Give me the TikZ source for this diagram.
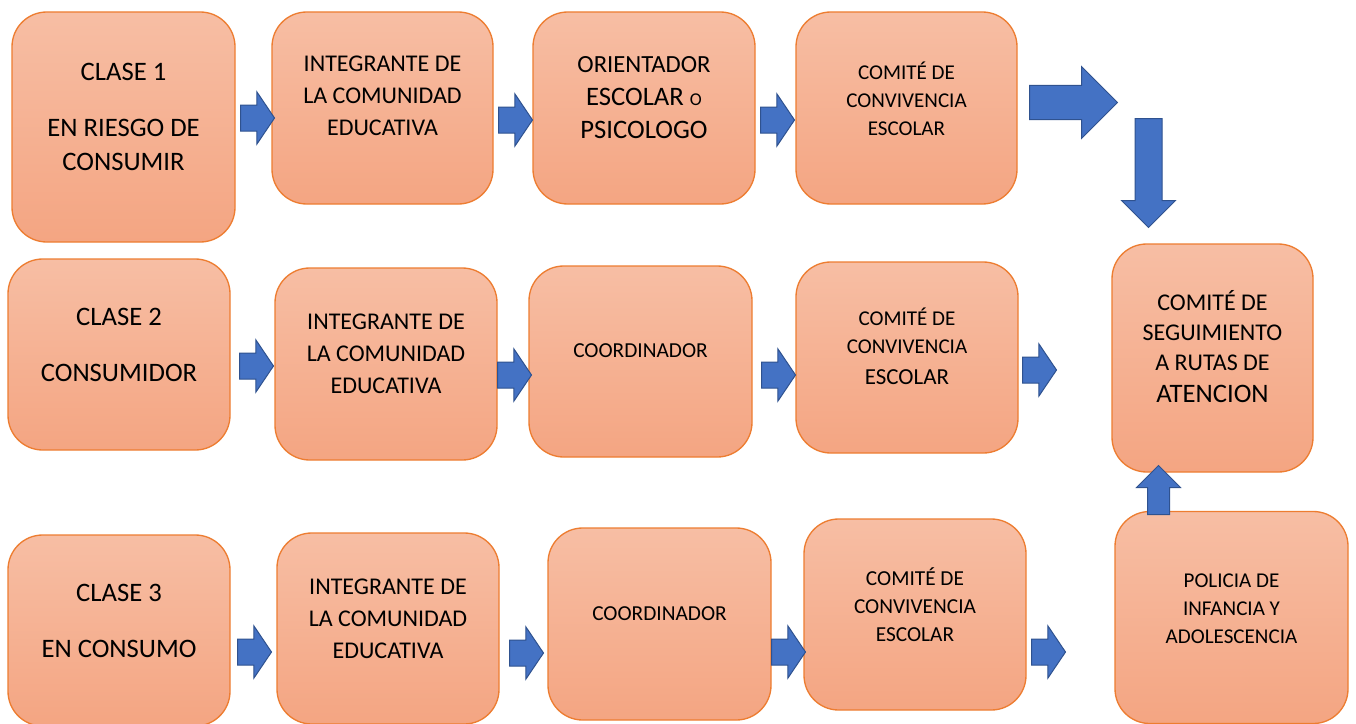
\documentclass[tikz,border=0pt]{standalone}
\usepackage{fontspec}
\setmainfont{Carlito}
\usetikzlibrary{shapes.arrows}

\definecolor{boxtop}{HTML}{F7BEA4}
\definecolor{boxbot}{HTML}{F4A582}
\definecolor{boxline}{HTML}{ED7D31}
\definecolor{arrfill}{HTML}{4472C4}
\definecolor{arrline}{HTML}{2F528F}
\newcommand{\fsz}[2]{\fontsize{#1}{#2}\selectfont}

\begin{document}
\begin{tikzpicture}[x=0.75pt, y=-0.75pt,
    box/.style={draw=boxline, line width=1pt, rounded corners=26pt,
        top color=boxtop, bottom color=boxbot, inner sep=0pt},
    lbl/.style={align=center, inner sep=0pt, text=black},
    blk/.style={single arrow, draw=arrline, fill=arrfill, line width=0.75pt,
        inner xsep=0pt, inner ysep=9.375pt, single arrow head extend=9.75pt,
        single arrow tip angle=112, minimum height=25.5pt, anchor=tail}]
\useasboundingbox (0,0) rectangle (1356,724);

% boxes
\begin{scope}[every node/.style={box}]
    \node[minimum width=167.25pt, minimum height=172.5pt] (c1) at (123.5,127) {};
    \node[minimum width=165.75pt, minimum height=144pt] (i1) at (382.5,108) {};
    \node[minimum width=166.5pt, minimum height=144pt] (o1) at (644,108) {};
    \node[minimum width=165.75pt, minimum height=144pt] (k1) at (906.5,108) {};
    \node[minimum width=150.75pt, minimum height=171pt] (seg) at (1212.5,358) {};
    \node[minimum width=166.5pt, minimum height=143.25pt] (c2) at (119,354.5) {};
    \node[minimum width=166.5pt, minimum height=144pt] (i2) at (386,364) {};
    \node[minimum width=167.25pt, minimum height=143.25pt] (co2) at (640.5,361.5) {};
    \node[minimum width=166.5pt, minimum height=143.25pt] (k2) at (907,357.5) {};
    \node[minimum width=166.5pt, minimum height=143.25pt] (c3) at (119,630.5) {};
    \node[minimum width=166.5pt, minimum height=143.25pt] (i3) at (388,628.5) {};
    \node[minimum width=167.25pt, minimum height=144pt] (co3) at (659.5,624) {};
    \node[minimum width=166.5pt, minimum height=143.25pt] (k3) at (915,614.5) {};
    \node[minimum width=174.75pt, minimum height=159pt] (pol) at (1231.5,617.5) {};
\end{scope}

% texts
\begin{scope}[every node/.style={lbl}]
    \node[font=\fsz{20}{25.5}] (c1t) at (123.5,117) {CLASE 1\\[16.5pt] EN RIESGO DE\\ CONSUMIR};
    \node[font=\fsz{18}{24}] (i1t) at (382.5,96) {INTEGRANTE DE\\ LA COMUNIDAD\\ EDUCATIVA};
    \node[font=\fsz{20}{25}] (o1t) at (644,97.5) {{\fsz{18.5}{25}ORIENTADOR}\\ ESCOLAR {\fsz{13.5}{25}O}\\ PSICOLOGO};
    \node[font=\fsz{15.8}{21}] (k1t) at (906.5,99) {COMITÉ DE\\ CONVIVENCIA\\ ESCOLAR};
    \node[font=\fsz{18}{22.5}] (segt) at (1212.5,346.5) {COMITÉ DE\\ SEGUIMIENTO\\ A RUTAS DE\\[2pt] {\fsz{20}{22.5}ATENCION}};
    \node[font=\fsz{20}{25.5}] (c2t) at (119,345) {CLASE 2\\[16.5pt] CONSUMIDOR};
    \node[font=\fsz{18}{24}] (i2t) at (386,353.5) {INTEGRANTE DE\\ LA COMUNIDAD\\ EDUCATIVA};
    \node[font=\fsz{16}{21}] (co2t) at (640.5,351) {COORDINADOR};
    \node[font=\fsz{15.8}{21}] (k2t) at (907,346) {COMITÉ DE\\ CONVIVENCIA\\[2pt] {\fsz{17.2}{21}ESCOLAR}};
    \node[font=\fsz{20}{25.5}] (c3t) at (119,621) {CLASE 3\\[16.5pt] EN CONSUMO};
    \node[font=\fsz{18}{24}] (i3t) at (388,619) {INTEGRANTE DE\\ LA COMUNIDAD\\ EDUCATIVA};
    \node[font=\fsz{16}{21}] (co3t) at (659.5,614) {COORDINADOR};
    \node[font=\fsz{16}{21}] (k3t) at (915,604.5) {COMITÉ DE\\ CONVIVENCIA\\ ESCOLAR};
    \node[font=\fsz{15.8}{21}] (polt) at (1231.5,608.5) {POLICIA DE\\ INFANCIA Y\\ ADOLESCENCIA};
\end{scope}

% block arrows
\begin{scope}[every node/.style={blk}]
    \node (a1) at (240,118) {};
    \node (a2) at (498,120) {};
    \node (a3) at (760,120) {};
    \node (b1) at (239,366) {};
    \node (b2) at (497,375) {};
    \node (b3) at (761,375) {};
    \node (b4) at (1022,370) {};
    \node (d1) at (237,652) {};
    \node (d2) at (509,653) {};
    \node (d3) at (771,652) {};
    \node (d4) at (1031,652) {};
    \node[minimum height=66pt, inner ysep=12.375pt, single arrow head extend=14.25pt,
        single arrow tip angle=90] (bigr) at (1029,102.5) {};
    \node[minimum height=81.75pt, inner ysep=9.75pt, single arrow head extend=10.1pt,
        single arrow tip angle=90, rotate=-90] (bigd) at (1148.5,118) {};
    \node[minimum height=36.75pt, inner ysep=7.875pt, single arrow head extend=8.25pt,
        single arrow tip angle=90, rotate=90] (up) at (1158.5,515) {};
\end{scope}
\end{tikzpicture}
\end{document}
